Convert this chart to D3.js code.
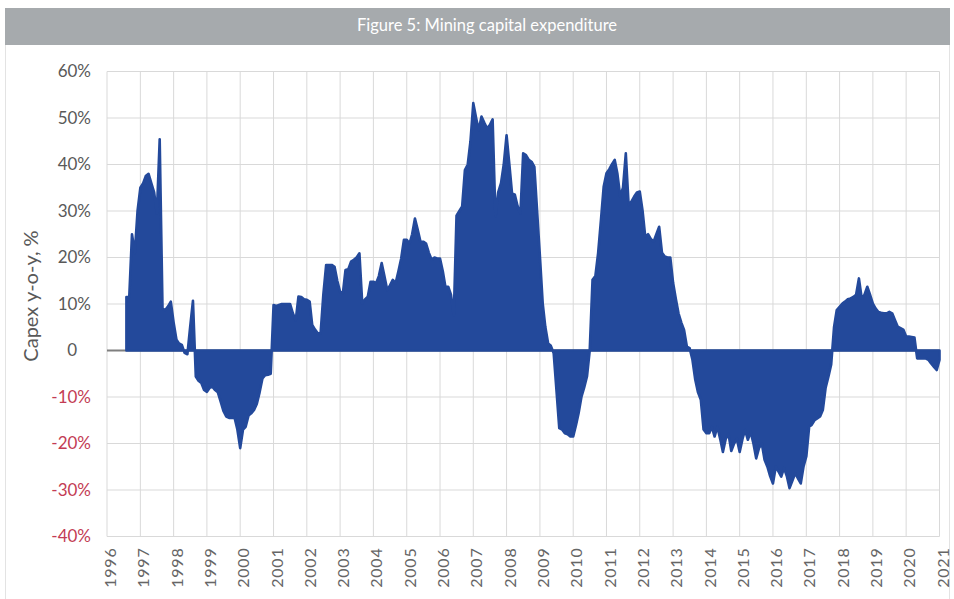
<!DOCTYPE html>
<html>
<head>
<meta charset="utf-8">
<script src="https://cdn.jsdelivr.net/npm/d3@7"></script>
<style>
  html, body { margin: 0; padding: 0; background: #fff; }
  svg { display: block; }
  text { font-family: Lato, "Open Sans", sans-serif; }
</style>
</head>
<body>
<svg id="chart" width="954" height="599"></svg>
<script>
// ---------- DATA ----------
const title = "Figure 5: Mining capital expenditure";
const yAxisTitle = "Capex y-o-y, %";
const startMonth = "1996-08";   // first monthly observation
// Monthly capex y-o-y growth, %, from Aug 1996 to Jan 2021
const capex1996 = [11.5, 11.5, 25, 21, 30];                                   // Aug-Dec
const capex1997 = [35, 36, 37.5, 38, 36, 34, 29.5, 45.4, 9, 8.7, 9.5, 10.5];
const capex1998 = [6, 2.3, 1.5, 1.2, -0.5, -0.8, 5, 10.7, -5.6, -6.5, -7, -8.5];
const capex1999 = [-8.9, -8, -7.8, -8.5, -9, -11, -13, -14.2, -14.5, -14.5, -14.5, -17];
const capex2000 = [-21, -17, -16.4, -14, -13.5, -12.8, -11.5, -9, -6, -5.3, -5.2, -5];
const capex2001 = [9.8, 9.6, 9.8, 10, 10, 10, 10, 8, 6.5, 11.6, 11.5, 11];
const capex2002 = [10.9, 10.5, 5.5, 4.5, 3.7, 3.7, 12, 18.4, 18.4, 18.4, 18, 15];
const capex2003 = [12.6, 12.4, 17.3, 17.5, 19.1, 19.5, 20, 20.9, 10.1, 11, 11.6, 14.8];
const capex2004 = [14.8, 14.5, 16, 18.8, 16, 13, 14, 15.2, 14.5, 17, 19.8, 23.8];
const capex2005 = [23.8, 23, 25, 28.4, 26, 23.4, 23.4, 23, 21, 19.5, 20, 19.8];
const capex2006 = [19.8, 17, 13.7, 13.7, 12, 7.6, 29, 30, 31, 38.8, 40, 45];
const capex2007 = [53.2, 50, 47.4, 50.3, 49, 47.8, 48.5, 49.7, 28.8, 34, 36, 40];
const capex2008 = [46.3, 40, 33.8, 33.5, 31, 29.5, 42.4, 42, 41, 40.6, 39.5, 30];
const capex2009 = [20.2, 10, 5.1, 1.5, 1, -0.6, -8.5, -16.7, -17, -17.8, -18, -18.5];
const capex2010 = [-18.5, -16, -13.5, -10, -8, -5.6, 0, 15.2, 16, 20.9, 28, 35.2];
const capex2011 = [38.1, 39, 40, 41, 38, 33.1, 35, 42.4, 31.3, 32, 33.1, 34];
const capex2012 = [34.2, 30, 24.5, 25, 24, 23.4, 25, 26.6, 21, 20.2, 20, 20];
const capex2013 = [14.5, 11, 8, 6, 4.4, 0.8, 0.5, -2, -6.3, -9, -10.6, -17];
const capex2014 = [-17.8, -17.8, -16.4, -18.5, -16.4, -19, -21.8, -19, -18, -21.6, -20, -19];
const capex2015 = [-21.8, -19, -17.1, -19.2, -17.5, -20, -23.2, -21, -20, -23.5, -25, -27];
const capex2016 = [-28.6, -25, -26, -27.1, -25.3, -27, -29.6, -28, -26.4, -27.5, -28.6, -25];
const capex2017 = [-22.8, -16.4, -16, -15, -14.6, -14.2, -12.8, -8, -5.6, -3, 5, 8.7];
const capex2018 = [9.4, 10.1, 10.5, 11, 11.2, 11.5, 12, 15.5, 11.2, 12, 13.7, 12];
const capex2019 = [10.1, 9, 8.3, 8.1, 8, 8, 8.3, 8, 6.5, 5.1, 4.8, 4.5];
const capex2020 = [3, 3, 2.9, 2.8, -1.7, -1.7, -1.7, -1.7, -2, -2.8, -3.5, -4.2];
const capex2021 = [-2];                                                         // Jan

const yearTicks = d3.range(1996, 2022);          // 1996 ... 2021
const yTicks = [-40, -30, -20, -10, 0, 10, 20, 30, 40, 50, 60];

// ---------- BUILD SERIES ----------
const capex = [].concat(capex1996, capex1997, capex1998, capex1999, capex2000, capex2001,
  capex2002, capex2003, capex2004, capex2005, capex2006, capex2007, capex2008, capex2009,
  capex2010, capex2011, capex2012, capex2013, capex2014, capex2015, capex2016, capex2017,
  capex2018, capex2019, capex2020, capex2021);
const parseMonth = d3.timeParse("%Y-%m");
const start = parseMonth(startMonth);
const series = capex.map((v, i) => ({ date: d3.timeMonth.offset(start, i), value: v }));

// ---------- LAYOUT ----------
const svg = d3.select("#chart");
const plot = { left: 107, right: 939.5, top: 71.5, bottom: 536.5 };
const blue = "#23499b";
const grid = "#d9d9d9";
const labelGray = "#595959";
const negRed = "#c33c54";

// outer frame
svg.append("rect").attr("x", 5.5).attr("y", 8.5).attr("width", 944).attr("height", 600)
  .attr("fill", "none").attr("stroke", "#e3e3e3");

// title bar
svg.append("rect").attr("x", 5).attr("y", 8).attr("width", 945).attr("height", 37)
  .attr("fill", "#a6aaad");
svg.append("text").attr("x", 487).attr("y", 27).attr("text-anchor", "middle")
  .attr("dominant-baseline", "middle").attr("fill", "#ffffff")
  .attr("font-size", 16.5).text(title);

const x = d3.scaleTime()
  .domain([new Date(1996, 0, 1), new Date(2021, 0, 1)])
  .range([plot.left, plot.right]);
const y = d3.scaleLinear().domain([-40, 60]).range([plot.bottom, plot.top]);

// gridlines
const gx = svg.append("g").attr("class", "grid-x");
gx.selectAll("line").data(yearTicks).join("line")
  .attr("x1", d => x(new Date(d, 0, 1))).attr("x2", d => x(new Date(d, 0, 1)))
  .attr("y1", plot.top).attr("y2", plot.bottom)
  .attr("stroke", grid).attr("stroke-width", 1);
const gy = svg.append("g").attr("class", "grid-y");
gy.selectAll("line").data(yTicks).join("line")
  .attr("x1", plot.left).attr("x2", plot.right)
  .attr("y1", d => y(d)).attr("y2", d => y(d))
  .attr("stroke", grid).attr("stroke-width", 1);

// zero line (axis)
svg.append("line").attr("x1", plot.left).attr("x2", plot.right)
  .attr("y1", y(0)).attr("y2", y(0)).attr("stroke", "#7f7f7f").attr("stroke-width", 2);

// area
const area = d3.area().x(d => x(d.date)).y0(y(0)).y1(d => y(d.value));
svg.append("path").datum(series).attr("d", area)
  .attr("fill", blue).attr("stroke", blue).attr("stroke-width", 2.6)
  .attr("stroke-linejoin", "round");

// y axis labels
const yAxis = d3.axisLeft(y).tickValues(yTicks).tickSize(0).tickPadding(0)
  .tickFormat(d => d === 0 ? "0" : d + "%");
const ya = svg.append("g").attr("transform", `translate(91,0)`).call(yAxis);
ya.select(".domain").remove();
ya.selectAll("text")
  .attr("font-family", "Lato, 'Open Sans', sans-serif")
  .attr("font-size", 17)
  .attr("fill", d => d < 0 ? negRed : labelGray)
  .attr("dx", d => d === 0 ? -14 : 0);

// x axis labels (rotated)
const xAxis = d3.axisBottom(x).tickValues(yearTicks.map(d => new Date(d, 0, 1)))
  .tickSize(0).tickPadding(0).tickFormat(d3.timeFormat("%Y"));
const xa = svg.append("g").attr("transform", `translate(0,${plot.bottom})`).call(xAxis);
xa.select(".domain").remove();
xa.selectAll("text")
  .attr("font-family", "Lato, 'Open Sans', sans-serif")
  .attr("font-size", 16)
  .attr("letter-spacing", 0.8)
  .attr("fill", "#666666")
  .attr("text-anchor", "end")
  .attr("transform", "rotate(-90)")
  .attr("x", -11).attr("y", 3).attr("dy", "0.35em");

// y axis title
svg.append("text")
  .attr("transform", "translate(33,296) rotate(-90)")
  .attr("text-anchor", "middle").attr("dominant-baseline", "middle")
  .attr("font-size", 20).attr("fill", labelGray).text(yAxisTitle);
</script>
</body>
</html>
